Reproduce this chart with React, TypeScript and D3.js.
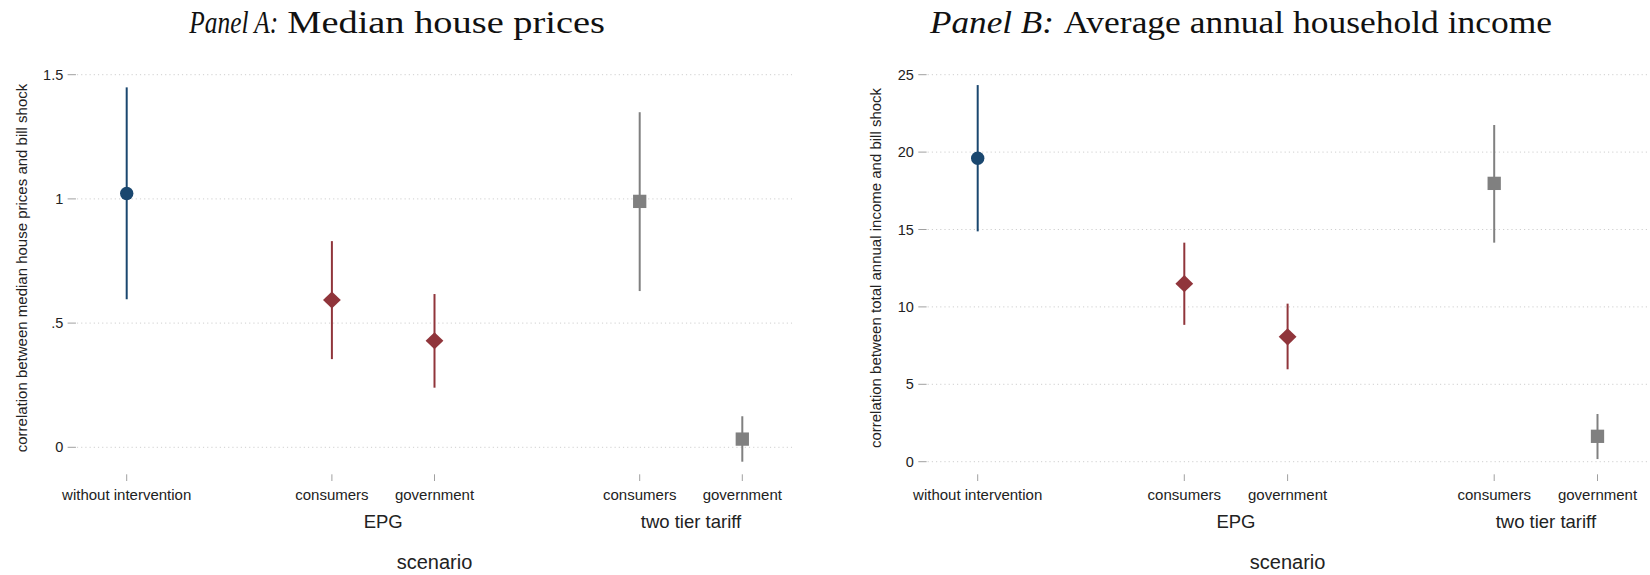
import React from 'react';
import * as d3 from 'd3';

// Scenario categories along the x axis (slot positions leave gaps between groups)
const categories = ['without intervention', 'consumers', 'government', 'consumers', 'government'];
const slots = [0, 2, 3, 5, 6];
const groupLabels = ['EPG', 'two tier tariff'];
const groupSlots = [2.5, 5.5];
const markerShapes = ['circle', 'diamond', 'diamond', 'square', 'square'];
const markerColors = ['#1a476f', '#90353b', '#90353b', '#808080', '#808080'];

// Panel A: median house prices
const priceEstimate = [1.022, 0.593, 0.429, 0.99, 0.033];
const priceLower = [0.596, 0.355, 0.24, 0.629, -0.058];
const priceUpper = [1.449, 0.83, 0.617, 1.349, 0.125];
const priceTicks = [0, 0.5, 1, 1.5];
const priceTickLabels = ['0', '.5', '1', '1.5'];

// Panel B: average annual household income
const incomeEstimate = [19.6, 11.5, 8.07, 17.98, 1.64];
const incomeLower = [14.88, 8.84, 5.97, 14.15, 0.17];
const incomeUpper = [24.33, 14.15, 10.21, 21.75, 3.08];
const incomeTicks = [0, 5, 10, 15, 20, 25];
const incomeTickLabels = ['0', '5', '10', '15', '20', '25'];

const SANS = '"Liberation Sans", Arial, sans-serif';
const SERIF = '"Liberation Serif", "Times New Roman", serif';

function Marker({ shape, cx, cy, color }) {
  if (shape === 'circle') return <circle cx={cx} cy={cy} r={6.7} fill={color} />;
  if (shape === 'diamond') {
    const h = 8.9, v = 8.6;
    return <path d={`M${cx},${cy - v}L${cx + h},${cy}L${cx},${cy + v}L${cx - h},${cy}Z`} fill={color} />;
  }
  const s = 13.3;
  return <rect x={cx - s / 2} y={cy - s / 2} width={s} height={s} fill={color} />;
}

function Panel(props) {
  const {
    italic, roman, italicX, italicW, romanX, romanW,
    yTitle, yTitleX, est, lo, hi, ticks, tickLabels, yMax, yBottom, xFirst, xLast,
  } = props;
  const x = d3.scaleLinear().domain([0, 6]).range([xFirst, xLast]);
  const y = d3.scaleLinear().domain([0, yMax]).range([yBottom, 74.7]);
  const gx0 = x(-0.485);
  const gx1 = x(6.485);
  const cx = (gx0 + gx1) / 2;
  return (
    <g>
      <text x={italicX} y={33} fontFamily={SERIF} fontStyle="italic" fontSize={31}
        textLength={italicW} lengthAdjust="spacingAndGlyphs" fill="#111">{italic}</text>
      <text x={romanX} y={33} fontFamily={SERIF} fontSize={31}
        textLength={romanW} lengthAdjust="spacingAndGlyphs" fill="#111">{roman}</text>

      {ticks.map((t, i) => (
        <g key={'t' + i}>
          <line x1={gx0} x2={gx1} y1={y(t)} y2={y(t)} stroke="#cfcfcf" strokeWidth={1} strokeDasharray="1.2 3" />
          <line x1={gx0 - 9.3} x2={gx0 - 1} y1={y(t)} y2={y(t)} stroke="#a0a0a0" strokeWidth={1} />
          <text x={gx0 - 13.7} y={y(t)} dy="0.35em" textAnchor="end" fontFamily={SANS} fontSize={14.5} fill="#222">{tickLabels[i]}</text>
        </g>
      ))}

      <text transform={`translate(${yTitleX},268) rotate(-90)`} textAnchor="middle" dy="0.35em"
        fontFamily={SANS} fontSize={15} fill="#222">{yTitle}</text>

      {categories.map((c, i) => (
        <g key={'c' + i}>
          <line x1={x(slots[i])} x2={x(slots[i])} y1={474.3} y2={481} stroke="#a0a0a0" strokeWidth={1} />
          <text x={x(slots[i])} y={500} textAnchor="middle" fontFamily={SANS} fontSize={15} fill="#222">{c}</text>
        </g>
      ))}
      {groupLabels.map((g, i) => (
        <text key={'g' + i} x={x(groupSlots[i])} y={528.3} textAnchor="middle" fontFamily={SANS} fontSize={18.5} fill="#222">{g}</text>
      ))}
      <text x={cx} y={569.3} textAnchor="middle" fontFamily={SANS} fontSize={20} fill="#222">scenario</text>

      {est.map((v, i) => (
        <g key={'m' + i}>
          <line x1={x(slots[i])} x2={x(slots[i])} y1={y(lo[i])} y2={y(hi[i])} stroke={markerColors[i]} strokeWidth={2} />
          <Marker shape={markerShapes[i]} cx={x(slots[i])} cy={y(v)} color={markerColors[i]} />
        </g>
      ))}
    </g>
  );
}

export default function App() {
  return (
    <svg width={1650} height={575} style={{ position: 'absolute', left: 0, top: 0, background: '#fff' }}>
      <rect width={1650} height={575} fill="#fff" />
      <Panel
        italic="Panel A:" roman="Median house prices"
        italicX={189.3} italicW={89} romanX={287.3} romanW={317.7}
        yTitle="correlation between median house prices and bill shock" yTitleX={21.7}
        est={priceEstimate} lo={priceLower} hi={priceUpper}
        ticks={priceTicks} tickLabels={priceTickLabels}
        yMax={1.5} yBottom={447.3} xFirst={126.7} xLast={742.3}
      />
      <Panel
        italic="Panel B:" roman="Average annual household income"
        italicX={930} italicW={124} romanX={1063.4} romanW={488.6}
        yTitle="correlation between total annual income and bill shock" yTitleX={876}
        est={incomeEstimate} lo={incomeLower} hi={incomeUpper}
        ticks={incomeTicks} tickLabels={incomeTickLabels}
        yMax={25} yBottom={461.7} xFirst={977.7} xLast={1597.5}
      />
    </svg>
  );
}
